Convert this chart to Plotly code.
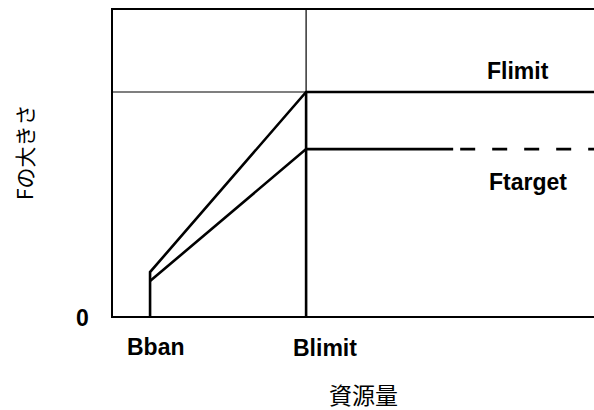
import plotly.graph_objects as go

# Reference points (conceptual units)
b_labels = ["Bban", "Blimit"]
b_values = [1.0, 5.0]          # Bban, Blimit
x_range = [0.05, 12.38]
y_range = [0.0, 1.366]

flimit_level = 1.0
ftarget_level = 0.745
flimit_at_bban = 0.196
ftarget_at_bban = 0.156
solid_end = 8.77
dash_start = 8.95

bban, blimit = b_values
xmax = x_range[1]

fig = go.Figure()
thick = dict(color="black", width=2.6)
thin = dict(color="black", width=1.2)

# thin guide lines
fig.add_trace(go.Scatter(x=[x_range[0], blimit], y=[flimit_level, flimit_level],
                         mode="lines", line=thin, hoverinfo="skip"))
fig.add_trace(go.Scatter(x=[blimit, blimit], y=[flimit_level, y_range[1]],
                         mode="lines", line=thin, hoverinfo="skip"))
# Flimit
fig.add_trace(go.Scatter(x=[bban, bban, blimit, xmax],
                         y=[0, flimit_at_bban, flimit_level, flimit_level],
                         mode="lines", line=thick, name="Flimit"))
# Ftarget solid
fig.add_trace(go.Scatter(x=[bban, blimit, solid_end],
                         y=[ftarget_at_bban, ftarget_level, ftarget_level],
                         mode="lines", line=thick, name="Ftarget"))
# Ftarget dashed
fig.add_trace(go.Scatter(x=[dash_start, xmax], y=[ftarget_level, ftarget_level],
                         mode="lines", line=dict(color="black", width=2.6, dash="15px,17px"),
                         name="Ftarget dashed"))
# Blimit vertical thick
fig.add_trace(go.Scatter(x=[blimit, blimit], y=[0, flimit_level],
                         mode="lines", line=thick, hoverinfo="skip"))

bold = dict(family="Liberation Sans, Arial", size=23, color="black")
cjk = dict(family="Noto Sans CJK JP", size=23, color="black")
common = dict(showarrow=False, xanchor="center", yanchor="middle")
ann = [
    dict(x=bban, y=0, xref="x", yref="y", text="<b>" + b_labels[0] + "</b>",
         xshift=6, yshift=-31, font=bold, **common),
    dict(x=blimit, y=0, xref="x", yref="y", text="<b>" + b_labels[1] + "</b>",
         xshift=19, yshift=-32, font=bold, **common),
    dict(x=x_range[0], y=0, xref="x", yref="y", text="<b>0</b>",
         xshift=-31, yshift=-2, font=bold, **common),
    dict(x=(518 - 113) / 481, y=flimit_level, xref="paper", yref="y", text="<b>Flimit</b>",
         yshift=21, font=bold, **common),
    dict(x=(528 - 113) / 481, y=ftarget_level, xref="paper", yref="y", text="<b>Ftarget</b>",
         yshift=-33, font=bold, **common),
    dict(x=(363 - 113) / 481, y=(316 - 394) / 306, xref="paper", yref="paper",
         text="資源量", font=cjk, **common),
    dict(x=(24 - 113) / 481, y=(316 - 152) / 306, xref="paper", yref="paper",
         text="Fの大きさ", textangle=-90,
         font=dict(family="Noto Sans CJK JP", size=21, color="black"), **common),
]

fig.update_layout(
    width=594, height=410,
    margin=dict(l=113, r=0, t=10, b=94),
    paper_bgcolor="white", plot_bgcolor="white",
    showlegend=False,
    annotations=ann,
    xaxis=dict(range=x_range, showgrid=False, zeroline=False, showticklabels=False,
               ticks="", showline=True, linecolor="black", linewidth=2, mirror=True),
    yaxis=dict(range=y_range, showgrid=False, zeroline=False, showticklabels=False,
               ticks="", showline=True, linecolor="black", linewidth=2),
)
fig.write_html("out.html", config={"displayModeBar": False},
               post_script="document.body.style.margin='0';document.body.style.overflow='hidden';")
